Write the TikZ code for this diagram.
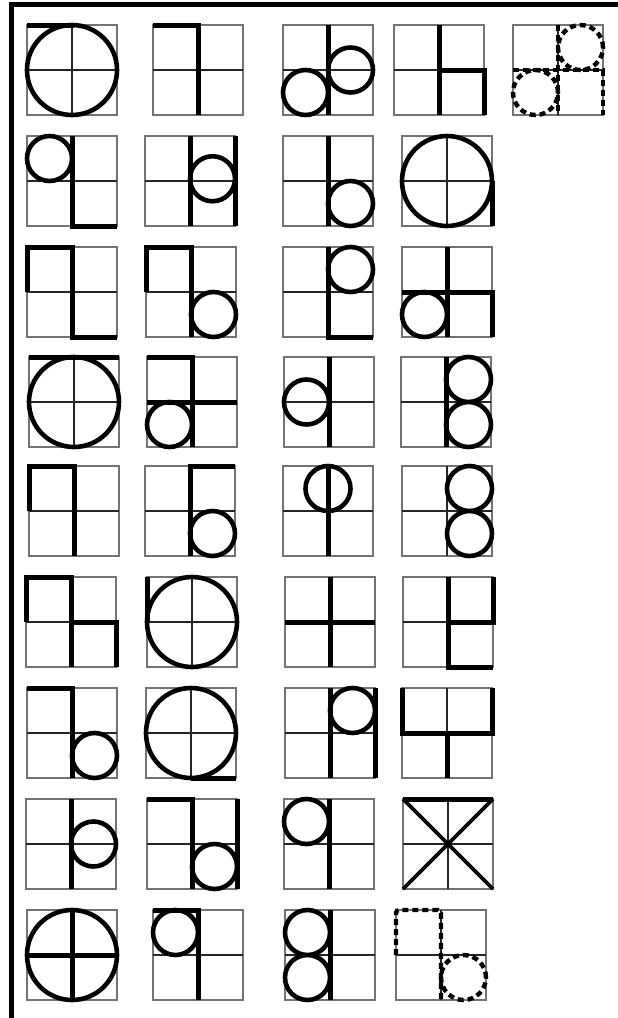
\documentclass[tikz,border=0pt]{standalone}
\usepackage{tikz}
\tikzset{
  boxln/.style={draw=black!55,line width=1.2pt},
  midln/.style={draw=black!85,line width=1.1pt},
  stroke/.style={draw=black,line width=5pt,line join=miter},
  ring/.style={draw=black,line width=4.6pt},
  dstroke/.style={draw=black,line width=4.4pt,dash pattern=on 6pt off 4pt},
  frame/.style={draw=black,line width=5pt}
}
\newcommand\cellat[3]{%
  \begin{scope}[shift={(#1,#2)},x=45pt,y=45pt]
    \draw[boxln] (0,0) rectangle (2,2);
    \draw[midln] (1,0)--(1,2) (0,1)--(2,1);
    #3
  \end{scope}}
\begin{document}
\begin{tikzpicture}[x=1pt,y=-1pt]
\useasboundingbox (0,0) rectangle (618,1018);
\fill[white] (0,0) rectangle (618,1018);
% frame
\draw[frame] (11,1018) -- (11,4) -- (618,4);
% Row 1
\cellat{27}{115}{\draw[ring] (1,1) circle[radius=1]; \draw[stroke] (0,2)--(1.05,2);}
\cellat{153}{115}{\draw[stroke] (0,2)--(1,2)--(1,0);}
\cellat{283}{115}{\draw[stroke] (1,2)--(1,0); \draw[ring] (0.5,0.5) circle[radius=0.5] (1.5,1) circle[radius=0.5];}
\cellat{394}{115}{\draw[stroke] (1,2)--(1,0); \draw[stroke] (1,1)--(2,1)--(2,0);}
\cellat{513}{115}{\draw[dstroke] (1,2)--(1,0); \draw[dstroke] (0,1)--(2,1)--(2,0); \draw[dstroke] (1.5,1.5) circle[radius=0.5] (0.5,0.5) circle[radius=0.5];}
% Row 2
\cellat{27}{226}{\draw[ring] (0.5,1.5) circle[radius=0.5]; \draw[stroke] (1,2)--(1,0)--(2,0);}
\cellat{145}{226}{\draw[stroke] (1,2)--(1,0) (2,2)--(2,0); \draw[ring] (1.5,1.05) circle[radius=0.5];}
\cellat{283}{226}{\draw[stroke] (1,2)--(1,0); \draw[ring] (1.5,0.5) circle[radius=0.5];}
\cellat{402}{226}{\draw[ring] (1,1) circle[radius=1]; \draw[stroke] (2,1)--(2,0);}
% Row 3
\cellat{27}{337}{\draw[stroke] (0,1)--(0,2)--(1,2)--(1,0)--(2,0);}
\cellat{146}{337}{\draw[stroke] (0,1)--(0,2)--(1,2)--(1,0); \draw[ring] (1.5,0.5) circle[radius=0.5];}
\cellat{283}{337}{\draw[ring] (1.5,1.5) circle[radius=0.5]; \draw[stroke] (1,2)--(1,0)--(2,0);}
\cellat{402}{337}{\draw[stroke] (1,2)--(1,0); \draw[stroke] (0,1)--(2,1)--(2,0); \draw[ring] (0.5,0.5) circle[radius=0.5];}
% Row 4
\cellat{29}{447}{\draw[ring] (1,1) circle[radius=1]; \draw[stroke] (0,2)--(2,2);}
\cellat{147}{447}{\draw[stroke] (0,2)--(1,2)--(1,0); \draw[stroke] (0,1)--(2,1); \draw[ring] (0.5,0.5) circle[radius=0.5];}
\cellat{284}{447}{\draw[ring] (0.5,1) circle[radius=0.5]; \draw[stroke] (1,2)--(1,0);}
\cellat{401}{447}{\draw[stroke] (1,2)--(1,0); \draw[ring] (1.5,1.5) circle[radius=0.5] (1.5,0.5) circle[radius=0.5];}
% Row 5
\cellat{29}{556}{\draw[stroke] (0,1)--(0,2)--(1,2)--(1,0);}
\cellat{145}{556}{\draw[stroke] (2,2)--(1,2)--(1,0); \draw[ring] (1.5,0.5) circle[radius=0.5];}
\cellat{283}{556}{\draw[ring] (1,1.5) circle[radius=0.5]; \draw[stroke] (1,2)--(1,0);}
\cellat{402}{556}{\draw[ring] (1.5,1.5) circle[radius=0.5] (1.5,0.5) circle[radius=0.5];}
% Row 6
\cellat{26}{667}{\draw[stroke] (0,1)--(0,2)--(1,2)--(1,0); \draw[stroke] (1,1)--(2,1)--(2,0);}
\cellat{147}{667}{\draw[ring] (1,1) circle[radius=1]; \draw[stroke] (0,2)--(0,1);}
\cellat{285}{667}{\draw[stroke] (1,2)--(1,0); \draw[stroke] (0,1)--(2,1);}
\cellat{403}{667}{\draw[stroke] (1,2)--(1,0)--(2,0); \draw[stroke] (1,1)--(2,1)--(2,2);}
% Row 7
\cellat{27}{778}{\draw[stroke] (0,2)--(1,2)--(1,0); \draw[ring] (1.5,0.5) circle[radius=0.5];}
\cellat{146}{778}{\draw[ring] (1,1) circle[radius=1]; \draw[stroke] (1,0)--(2,0);}
\cellat{285}{778}{\draw[stroke] (1,2)--(1,0) (2,2)--(2,0); \draw[ring] (1.5,1.5) circle[radius=0.5];}
\cellat{402}{778}{\draw[stroke] (0,2)--(0,1)--(2,1)--(2,2); \draw[stroke] (1,1)--(1,0);}
% Row 8
\cellat{26}{889}{\draw[stroke] (1,2)--(1,0); \draw[ring] (1.5,1) circle[radius=0.5];}
\cellat{147}{889}{\draw[stroke] (0,2)--(1,2)--(1,0) (2,2)--(2,0); \draw[ring] (1.5,0.5) circle[radius=0.5];}
\cellat{284}{889}{\draw[ring] (0.5,1.5) circle[radius=0.5]; \draw[stroke] (1,2)--(1,0);}
\cellat{403}{889}{\draw[stroke] (0,2)--(2,2); \draw[stroke,line width=3.8pt] (0,0)--(2,2) (0,2)--(2,0);}
% Row 9
\cellat{27}{1000}{\draw[ring] (1,1) circle[radius=1]; \draw[stroke] (1,2)--(1,0) (0,1)--(2,1);}
\cellat{153}{1000}{\draw[stroke] (0,2)--(1,2)--(1,0); \draw[ring] (0.5,1.5) circle[radius=0.5];}
\cellat{285}{1000}{\draw[ring] (0.5,1.5) circle[radius=0.5] (0.5,0.5) circle[radius=0.5]; \draw[stroke] (1,2)--(1,0);}
\cellat{396}{1000}{\draw[dstroke,rounded corners=3pt] (0,1)--(0,2)--(1,2)--(1,0); \draw[dstroke] (1.5,0.5) circle[radius=0.5];}
\end{tikzpicture}
\end{document}
